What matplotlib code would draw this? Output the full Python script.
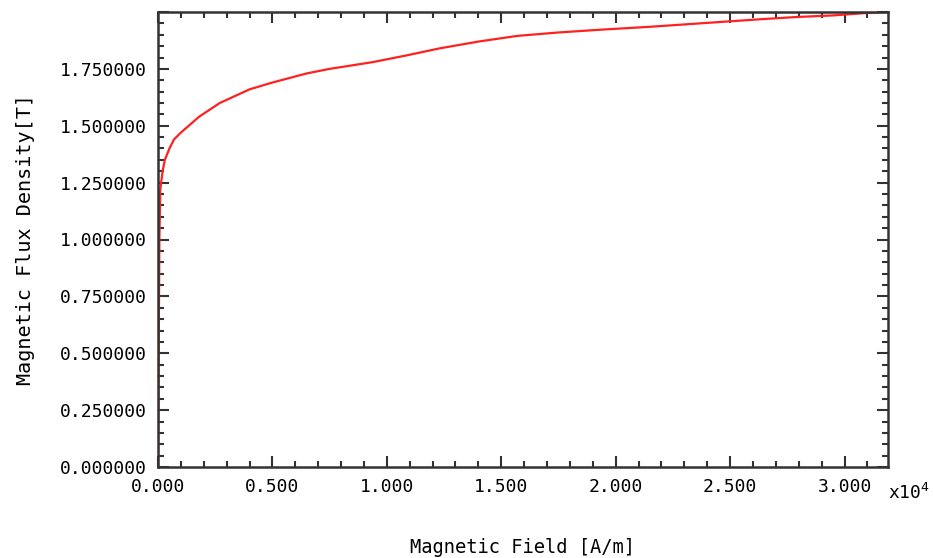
import matplotlib
matplotlib.use('Agg')
import matplotlib.pyplot as plt
from matplotlib.ticker import MultipleLocator, FuncFormatter

matplotlib.rcParams['font.family'] = 'DejaVu Sans Mono'

# B-H curve
H = [0, 60, 100, 200, 300, 500, 700, 1000, 1800, 2700, 4000, 5000, 6500, 7500,
     9400, 10900, 12300, 14000, 15700, 17500, 19300, 21500, 23100, 24700, 26300,
     27900, 29500, 31000, 31900]
B = [0.0, 1.0, 1.22, 1.30, 1.35, 1.40, 1.44, 1.47, 1.54, 1.60, 1.66, 1.69, 1.73, 1.75,
     1.78, 1.81, 1.84, 1.87, 1.895, 1.91, 1.922, 1.935, 1.946, 1.957, 1.968,
     1.978, 1.985, 1.996, 2.0]

fig = plt.figure(figsize=(9.33, 5.58), dpi=100)
ax = fig.add_axes([158/933, 1 - 467/558, (888 - 158)/933, (467 - 12)/558])

ax.plot(H, B, color='#ff2020', linewidth=1.6)

ax.set_xlim(0, 31900)
ax.set_ylim(0, 2.0)

ax.xaxis.set_major_locator(MultipleLocator(5000))
ax.xaxis.set_minor_locator(MultipleLocator(1000))
ax.yaxis.set_major_locator(MultipleLocator(0.25))
ax.yaxis.set_minor_locator(MultipleLocator(0.05))
ax.xaxis.set_major_formatter(FuncFormatter(lambda v, p: f'{v/1e4:.3f}'))
ax.yaxis.set_major_formatter(FuncFormatter(lambda v, p: f'{v:.6f}' if v < 1.99 else ''))

ax.tick_params(which='both', direction='in', top=True, right=True, labelsize=13,
               color='#333333', width=1.5)
ax.tick_params(which='major', length=8, pad=8)
ax.tick_params(which='minor', length=4)
for s in ax.spines.values():
    s.set_linewidth(1.8)
    s.set_color('#333333')

ax.text(1.0, -0.035, r'x10$^4$', transform=ax.transAxes, fontsize=13,
        ha='left', va='top')

ax.set_xlabel('Magnetic Field [A/m]', fontsize=13.5, labelpad=30)
ax.set_ylabel('Magnetic Flux Density[T]', fontsize=14.5, labelpad=18)

fig.savefig('out.png', dpi=100)
